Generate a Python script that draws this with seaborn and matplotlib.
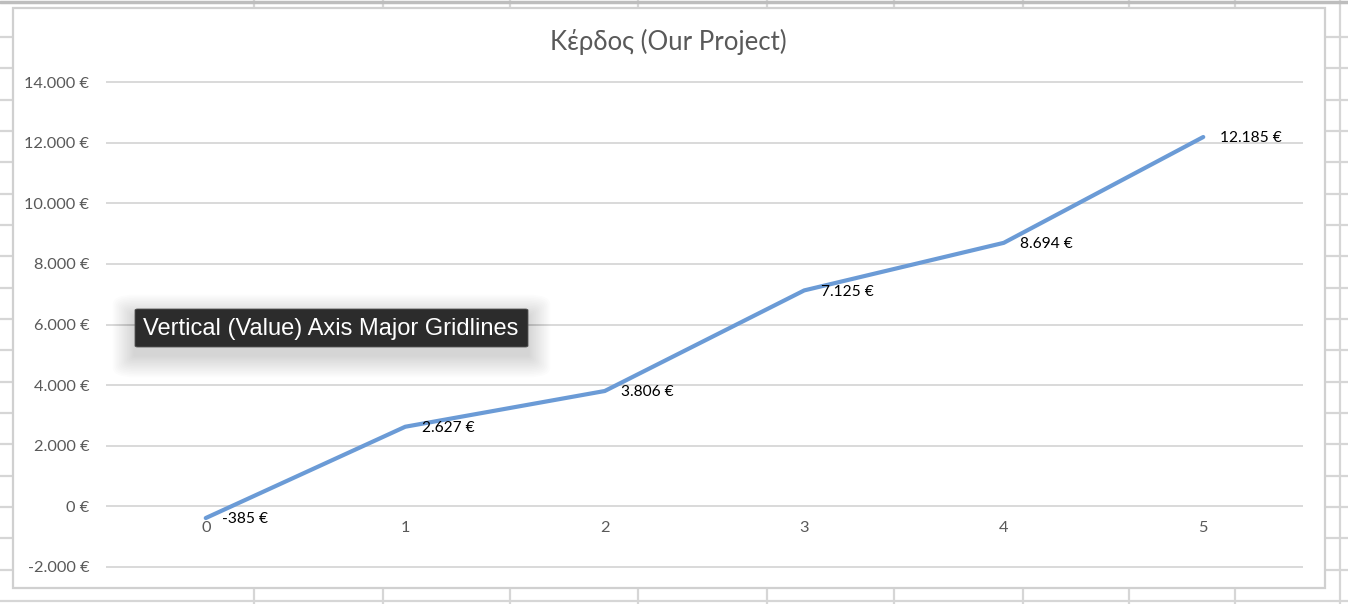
import numpy as np
import matplotlib
matplotlib.use("Agg")
import matplotlib.pyplot as plt
import seaborn as sns
from matplotlib.patches import Rectangle, FancyBboxPatch
from matplotlib.lines import Line2D
import matplotlib.ticker as mticker

# ---- data ----
periods = [0, 1, 2, 3, 4, 5]
profit = [-385, 2627, 3806, 7125, 8694, 12185]
y_ticks = [-2000, 0, 2000, 4000, 6000, 8000, 10000, 12000, 14000]
title_text = "Κέρδος (Our Project)"
tooltip_text = "Vertical (Value) Axis Major Gridlines"


def euro(v):
    return f"{v:,.0f} €".replace(",", ".")


W, H = 1348, 604
sns.set_theme(style="white")
plt.rcParams["font.family"] = ["Lato", "Open Sans", "DejaVu Sans"]

fig = plt.figure(figsize=(W / 100, H / 100), dpi=100)
fig.patch.set_facecolor("white")


def fx(x):
    return x / W


def fy(y):
    return 1 - y / H


# spreadsheet cells behind the chart
cell_c = "#d6d6d6"
for x in [254, 383, 510, 638, 767, 894, 1023, 1129, 1235, 1340]:
    fig.add_artist(Line2D([fx(x)] * 2, [0, 1], transform=fig.transFigure,
                          color=cell_c, lw=1.6, zorder=-3))
for y in np.linspace(37, 601, 19):
    fig.add_artist(Line2D([0, 1], [fy(y)] * 2, transform=fig.transFigure,
                          color=cell_c, lw=1.6, zorder=-3))
fig.add_artist(Line2D([0, 1], [fy(1.5)] * 2, transform=fig.transFigure,
                      color="#bdbdbd", lw=2.5, zorder=-3))

# chart area
fig.add_artist(Rectangle((fx(13), fy(588)), fx(1325) - fx(13), fy(8) - fy(588),
                         transform=fig.transFigure, facecolor="white",
                         edgecolor="#d0d0d0", lw=1.6, zorder=-2))

# plot area
top_px, bot_px = 82 - 3.03, 567 + 3.03
ax = fig.add_axes([fx(106), fy(bot_px), fx(1303) - fx(106), (bot_px - top_px) / H])
ax.patch.set_alpha(0)

sns.lineplot(x=periods, y=profit, ax=ax, color="#6b9bd6", lw=3.0, zorder=3)

ax.set_xlim(-0.5, 5.5)
ax.set_ylim(-2100, 14100)
ax.set_yticks(y_ticks)
ax.set_xticks(periods)
ax.yaxis.set_major_formatter(mticker.FuncFormatter(lambda v, p: euro(v)))
ax.grid(axis="y", color="#d9d9d9", lw=1.4)
ax.grid(axis="x", visible=False)
ax.set_axisbelow(True)
for s in ax.spines.values():
    s.set_visible(False)
ax.spines["bottom"].set_position(("data", 0))
ax.tick_params(axis="y", length=0, pad=12, labelsize=11.8, labelcolor="#595959")
ax.tick_params(axis="x", length=0, pad=10.5, labelsize=11.8, labelcolor="#595959")
ax.set_xlabel("")
ax.set_ylabel("")

for x, v in zip(periods, profit):
    ax.annotate(euro(v), (x, v), xytext=(12, -1), textcoords="offset points",
                ha="left", va="center", fontsize=11.2, color="black")

fig.text(fx(668), fy(42), title_text, ha="center", va="center",
         fontsize=18.5, color="#595959")

# tooltip with soft shadow
n_layers = 14
for i in range(n_layers):
    g = (n_layers - i) * 1.6
    fig.add_artist(FancyBboxPatch((fx(135 - g), fy(347 + g + 8)),
                                  fx(528 + g) - fx(135 - g), fy(309 - g + 8) - fy(347 + g + 8),
                                  boxstyle=f"round,pad=0,rounding_size={g / W:.4f}",
                                  transform=fig.transFigure, facecolor="black",
                                  edgecolor="none", alpha=0.012, zorder=9))
fig.add_artist(FancyBboxPatch((fx(135), fy(347)), fx(528) - fx(135), fy(309) - fy(347),
                              boxstyle="round,pad=0,rounding_size=0.002",
                              transform=fig.transFigure, facecolor="#2c2c2c",
                              edgecolor="#555555", lw=0.6, zorder=10))
fig.text(fx(331), fy(328.5), tooltip_text, ha="center", va="center",
         fontsize=17, color="white", family=["Liberation Sans", "DejaVu Sans"],
         zorder=11)

fig.savefig("out.png", dpi=100, facecolor="white")
